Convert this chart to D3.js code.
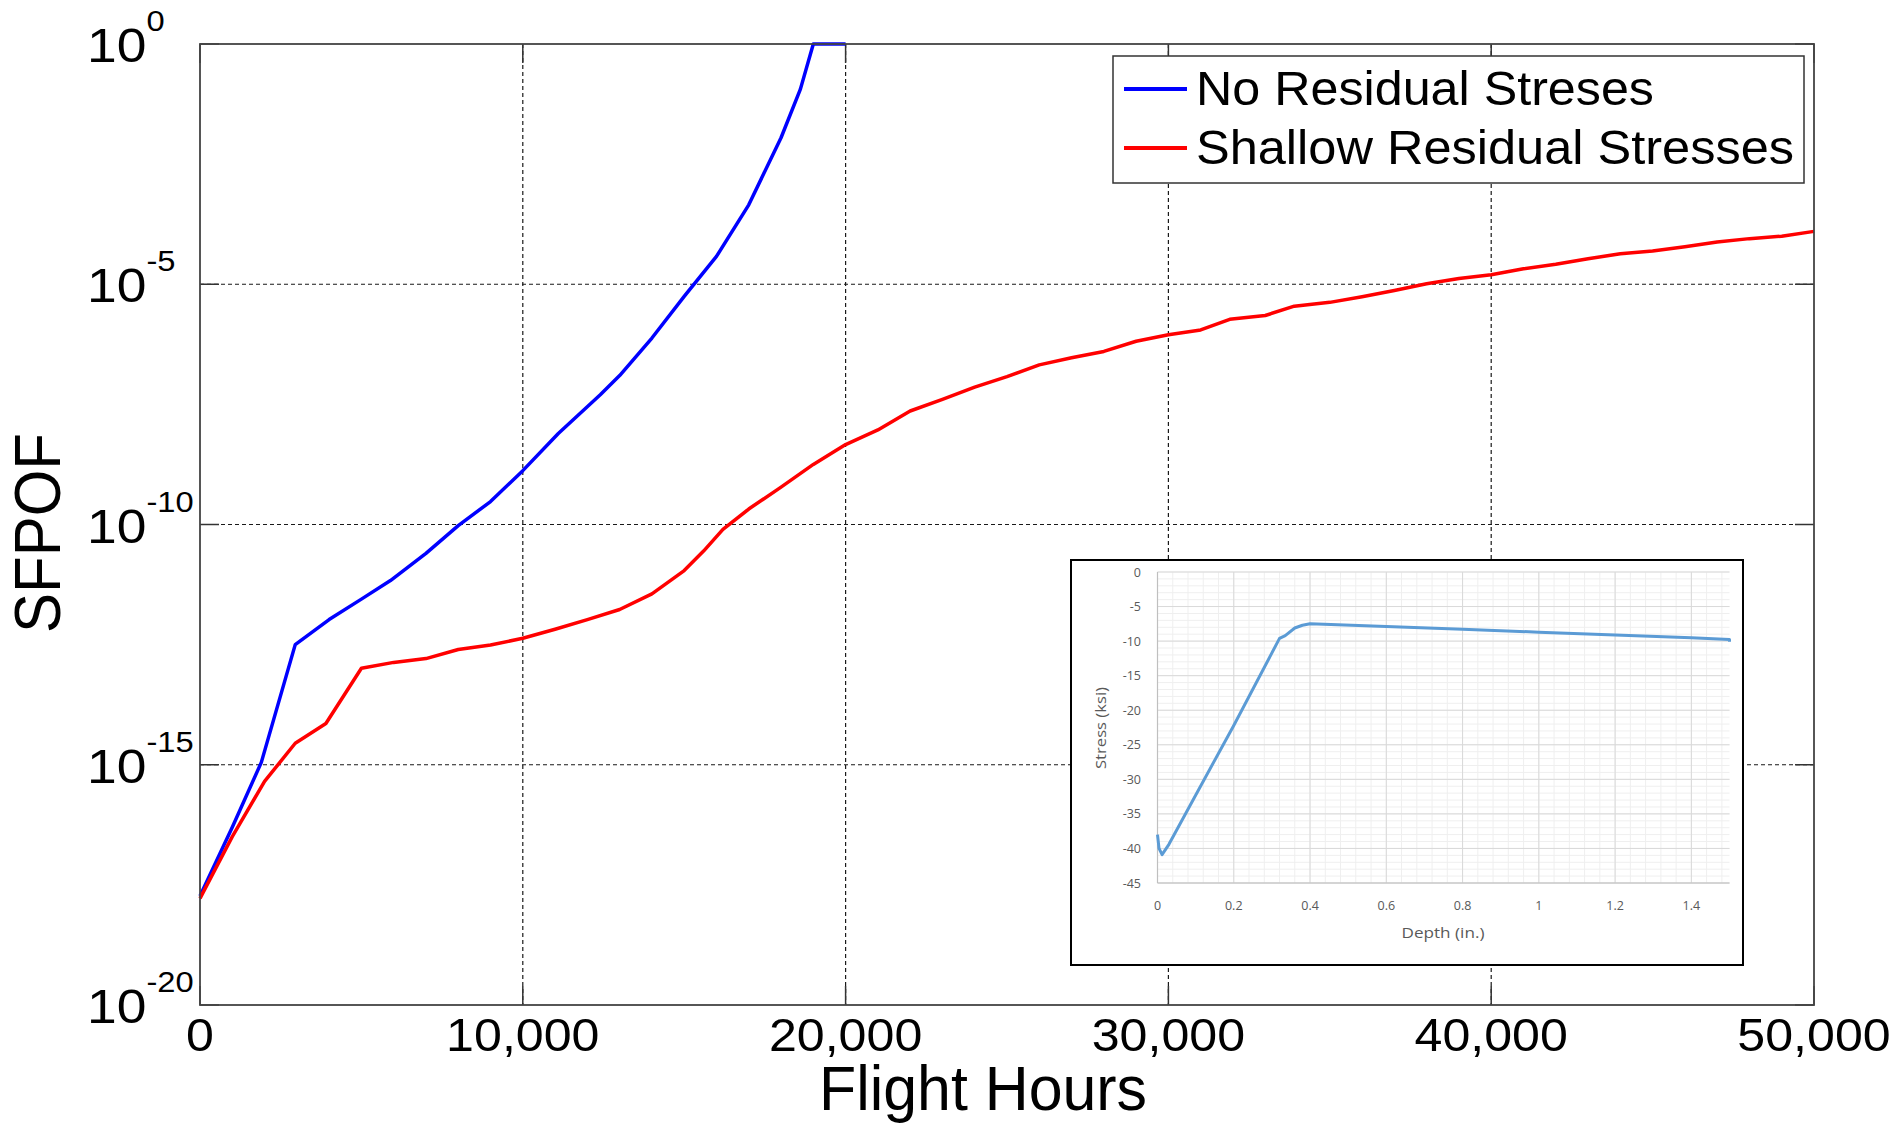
<!DOCTYPE html>
<html><head><meta charset="utf-8">
<script src="https://cdn.jsdelivr.net/npm/d3@7"></script>
<style>
html,body{margin:0;padding:0;background:#fff;}
svg{display:block;}
text{font-family:"Liberation Sans",Arial,sans-serif;}
</style></head>
<body>
<svg id="chart" width="1901" height="1124"></svg>
<script>
// ---- Main chart data ----
const seriesNames = ["No Residual Streses", "Shallow Residual Stresses"];
const seriesColors = ["#0000ff", "#ff0000"];
const noResidualHours = [0, 1000, 1900, 2950, 4000, 5000, 5900, 7000, 8000, 9000, 10000, 11100, 12400, 13000, 14000, 15000, 16000, 17000, 18000, 18600, 19000, 20000];
const noResidualSFPOF = [1.86e-18, 5.0e-17, 1.12e-15, 3.16e-13, 1.05e-12, 2.8e-12, 6.8e-12, 2.5e-11, 9.5e-11, 3.0e-10, 1.32e-9, 7.8e-9, 5.0e-8, 1.26e-7, 7.6e-7, 5.6e-6, 3.8e-5, 4.5e-4, 1.12e-2, 0.115, 1, 1];
const shallowHours = [0, 1000, 2000, 2950, 3900, 5000, 6000, 7000, 8000, 9000, 10000, 11000, 12000, 13000, 14000, 15000, 15600, 16200, 17000, 18000, 19000, 20000, 21000, 22000, 23000, 24000, 25000, 26000, 27000, 28000, 29000, 30000, 31000, 31900, 33000, 33900, 35000, 36000, 37000, 38000, 39000, 40000, 41000, 42000, 43000, 44000, 45000, 46000, 47000, 48000, 49000, 50000];
const shallowSFPOF = [1.66e-18, 3.2e-17, 4.5e-16, 2.8e-15, 7.2e-15, 1.02e-13, 1.35e-13, 1.62e-13, 2.5e-13, 3.1e-13, 4.3e-13, 6.6e-13, 1.05e-12, 1.7e-12, 3.6e-12, 1.1e-11, 2.8e-11, 7.9e-11, 2.1e-10, 6.0e-10, 1.78e-9, 4.6e-9, 9.3e-9, 2.3e-8, 4.0e-8, 7.2e-8, 1.2e-7, 2.1e-7, 2.95e-7, 4.0e-7, 6.5e-7, 8.9e-7, 1.12e-6, 1.86e-6, 2.24e-6, 3.5e-6, 4.2e-6, 5.5e-6, 7.4e-6, 1.02e-5, 1.32e-5, 1.58e-5, 2.1e-5, 2.6e-5, 3.4e-5, 4.3e-5, 4.9e-5, 6.0e-5, 7.6e-5, 8.9e-5, 1.0e-4, 1.26e-4];
const xTickValues = [0, 10000, 20000, 30000, 40000, 50000];
const yTickExponents = [0, -5, -10, -15, -20];
const xTitle = "Flight Hours";
const yTitle = "SFPOF";

// ---- Inset data ----
const insetDepth = [0, 0.004, 0.012, 0.03, 0.1, 0.2, 0.32, 0.335, 0.36, 0.38, 0.4, 0.6, 0.8, 1.0, 1.2, 1.4, 1.5, 1.5];
const insetStress = [-38.0, -40.0, -40.9, -39.4, -32.3, -22.2, -9.6, -9.2, -8.1, -7.7, -7.5, -7.9, -8.3, -8.7, -9.1, -9.5, -9.75, -10.1];
const insetXTicks = [0, 0.2, 0.4, 0.6, 0.8, 1, 1.2, 1.4];
const insetYTicks = [0, -5, -10, -15, -20, -25, -30, -35, -40, -45];
const insetXTitle = "Depth (in.)";
const insetYTitle = "Stress (ksi)";

const svg = d3.select("#chart");
const SX = 1.09; // horizontal stretch of the original figure

const L = 200, R = 1814, T = 44, B = 1005;
const x = d3.scaleLinear().domain([0, 50000]).range([L, R]);
const y = d3.scaleLog().domain([1e-20, 1]).range([B, T]);

// grid
const g = svg.append("g");
const gridStyle = s => s.attr("stroke", "#1a1a1a").attr("stroke-width", 1.2).attr("stroke-dasharray", "4,3");
g.selectAll(".vg").data(xTickValues.slice(1, -1)).join("line")
  .attr("x1", d => x(d)).attr("x2", d => x(d)).attr("y1", T).attr("y2", B).call(gridStyle);
g.selectAll(".hg").data(yTickExponents.slice(1, -1)).join("line")
  .attr("y1", d => y(Math.pow(10, d))).attr("y2", d => y(Math.pow(10, d))).attr("x1", L).attr("x2", R).call(gridStyle);

// ticks (inward, all sides)
const TL = 19;
const tk = svg.append("g").attr("stroke", "#333").attr("stroke-width", 1.5);
xTickValues.forEach(v => {
  tk.append("line").attr("x1", x(v)).attr("x2", x(v)).attr("y1", B).attr("y2", B - TL);
  tk.append("line").attr("x1", x(v)).attr("x2", x(v)).attr("y1", T).attr("y2", T + TL);
});
yTickExponents.forEach(e => {
  const yy = y(Math.pow(10, e));
  tk.append("line").attr("x1", L).attr("x2", L + TL).attr("y1", yy).attr("y2", yy);
  tk.append("line").attr("x1", R).attr("x2", R - TL).attr("y1", yy).attr("y2", yy);
});

// lines
const line = d3.line().x(d => x(d[0])).y(d => y(d[1]));
const seriesData = [d3.zip(noResidualHours, noResidualSFPOF), d3.zip(shallowHours, shallowSFPOF)];
svg.append("g").selectAll("path").data(seriesData).join("path")
  .attr("d", line).attr("fill", "none")
  .attr("stroke", (d, i) => seriesColors[i]).attr("stroke-width", 3.5)
  .attr("stroke-linejoin", "round");

// frame
svg.append("rect").attr("x", L).attr("y", T).attr("width", R - L).attr("height", B - T)
  .attr("fill", "none").attr("stroke", "#444").attr("stroke-width", 1.8);

// x tick labels
svg.append("g").selectAll("g").data(xTickValues).join("g")
  .attr("transform", d => `translate(${x(d)},1051) scale(${SX},1)`)
  .append("text").attr("text-anchor", "middle").attr("font-size", 46).attr("fill", "#000")
  .text(d => d3.format(",")(d));

// y tick labels 10^e
const yl = svg.append("g").selectAll("g").data(yTickExponents).join("g")
  .attr("transform", d => `translate(87,${y(Math.pow(10, d)) + 18}) scale(${SX},1)`);
const ytxt = yl.append("text").attr("font-size", 49).attr("fill", "#000");
ytxt.append("tspan").text("10");
ytxt.append("tspan").attr("font-size", 30).attr("dy", -31).text(d => String(d));

// axis titles
svg.append("text").attr("x", 983).attr("y", 1110).attr("text-anchor", "middle")
  .attr("font-size", 63).attr("textLength", 328).attr("lengthAdjust", "spacingAndGlyphs").text(xTitle);
svg.append("g").attr("transform", `translate(60,533) scale(${SX},1) rotate(-90)`)
  .append("text").attr("text-anchor", "middle").attr("font-size", 60).text(yTitle);

// legend
const lg = svg.append("g");
lg.append("rect").attr("x", 1113).attr("y", 56).attr("width", 691).attr("height", 127)
  .attr("fill", "#fff").attr("stroke", "#333").attr("stroke-width", 1.5);
const legendLens = [458, 598];
seriesNames.forEach((n, i) => {
  const cy = 89 + i * 59;
  lg.append("line").attr("x1", 1124).attr("x2", 1187).attr("y1", cy).attr("y2", cy)
    .attr("stroke", seriesColors[i]).attr("stroke-width", 4);
  lg.append("text").attr("x", 1196).attr("y", cy + 16).attr("font-size", 49)
    .style("font-family", '"Liberation Sans",Arial,sans-serif')
    .attr("textLength", legendLens[i]).attr("lengthAdjust", "spacingAndGlyphs").text(n);
});

// ---- Inset ----
const ins = svg.append("g");
ins.append("rect").attr("x", 1071).attr("y", 560).attr("width", 672).attr("height", 405)
  .attr("fill", "#fff").attr("stroke", "#000").attr("stroke-width", 2);
const ix = d3.scaleLinear().domain([0, 1.5]).range([1157.5, 1729.5]);
const iy = d3.scaleLinear().domain([-45, 0]).range([883, 572]);
const minorX = d3.range(0, 1.5001, 0.04).filter(v => v <= 1.5);
const minorY = d3.range(-45, 0.001, 1);
ins.selectAll(".mx").data(minorX).join("line").attr("x1", d => ix(d)).attr("x2", d => ix(d))
  .attr("y1", iy(0)).attr("y2", iy(-45)).attr("stroke", "#efefef").attr("stroke-width", 1);
ins.selectAll(".my").data(minorY).join("line").attr("y1", d => iy(d)).attr("y2", d => iy(d))
  .attr("x1", ix(0)).attr("x2", ix(1.5)).attr("stroke", "#efefef").attr("stroke-width", 1);
ins.selectAll(".Mx").data(insetXTicks).join("line").attr("x1", d => ix(d)).attr("x2", d => ix(d))
  .attr("y1", iy(0)).attr("y2", iy(-45)).attr("stroke", "#d9d9d9").attr("stroke-width", 1);
ins.selectAll(".My").data(insetYTicks).join("line").attr("y1", d => iy(d)).attr("y2", d => iy(d))
  .attr("x1", ix(0)).attr("x2", ix(1.5)).attr("stroke", "#d9d9d9").attr("stroke-width", 1);
ins.append("line").attr("x1", ix(0)).attr("x2", ix(0)).attr("y1", iy(0)).attr("y2", iy(-45))
  .attr("stroke", "#bfbfbf").attr("stroke-width", 1.2);
ins.append("line").attr("x1", ix(0)).attr("x2", ix(1.5)).attr("y1", iy(-45)).attr("y2", iy(-45))
  .attr("stroke", "#bfbfbf").attr("stroke-width", 1.2);
ins.append("path").datum(d3.zip(insetDepth, insetStress))
  .attr("d", d3.line().x(d => ix(d[0])).y(d => iy(d[1])))
  .attr("fill", "none").attr("stroke", "#5b9bd5").attr("stroke-width", 3).attr("stroke-linejoin", "round");
const ifont = '"Open Sans","Noto Sans",sans-serif';
ins.selectAll(".ylab").data(insetYTicks).join("text")
  .attr("x", 1141).attr("y", d => iy(d) + 4.5).attr("text-anchor", "end")
  .attr("font-size", 12.5).attr("fill", "#595959").style("font-family", ifont).text(d => d);
ins.selectAll(".xlab").data(insetXTicks).join("text")
  .attr("x", d => ix(d)).attr("y", 910).attr("text-anchor", "middle")
  .attr("font-size", 12.5).attr("fill", "#595959").style("font-family", ifont).text(d => d);
ins.append("text").attr("x", 1443).attr("y", 938).attr("text-anchor", "middle")
  .attr("font-size", 14).attr("fill", "#595959").style("font-family", ifont)
  .attr("textLength", 83).attr("lengthAdjust", "spacingAndGlyphs").text(insetXTitle);
ins.append("text").attr("transform", "translate(1106,728) rotate(-90)").attr("text-anchor", "middle")
  .attr("font-size", 14).attr("fill", "#595959").style("font-family", ifont)
  .attr("textLength", 82).attr("lengthAdjust", "spacingAndGlyphs").text(insetYTitle);
</script>
</body></html>
